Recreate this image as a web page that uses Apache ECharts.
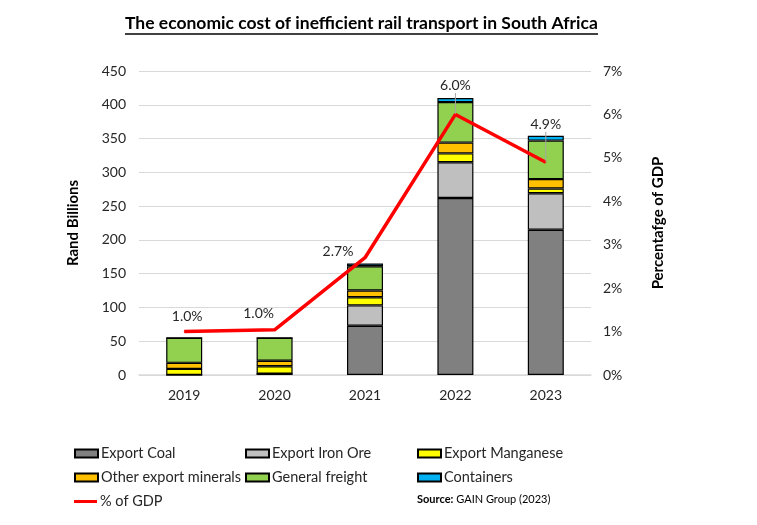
<!DOCTYPE html>
<html>
<head>
<meta charset="utf-8">
<script src="https://cdn.jsdelivr.net/npm/echarts@6/dist/echarts.min.js"></script>
<style>
  html, body { margin: 0; padding: 0; background: #fff; }
  #chart { width: 757px; height: 525px; }
</style>
</head>
<body>
<div id="chart"></div>
<script>
// rand billions per year
var years = ['2019', '2020', '2021', '2022', '2023'];
var exportCoal = [0, 2, 73, 262, 215];
var exportIronOre = [0, 0, 30, 53, 54];
var exportManganese = [9, 11, 12, 13, 7];
var otherMinerals = [9, 8, 10, 16, 14];
var generalFreight = [37, 34, 36, 60, 57];
var containers = [0, 0, 4, 6, 7];
// % of GDP line
var gdpShare = [1.0, 1.04, 2.7, 6.0, 4.9];

var leftTicks = { min: 0, max: 450, interval: 50 };
var rightTicks = { min: 0, max: 7, interval: 1 };

var FONT = 'Lato';
var chart = echarts.init(document.getElementById('chart'));

function barSeries(name, data, color) {
  return {
    name: name,
    type: 'bar',
    stack: 'cost',
    barWidth: 36,
    data: data,
    itemStyle: { color: color, borderColor: '#000', borderWidth: 1.2 }
  };
}

// label nudges for the % line; the last two get a leader line
var labelShift = [[3, -3], [-16, -4], [-27, 6], [0, -16], [0, -25]];
var gdpData = gdpShare.map(function (v, i) {
  var item = { value: v };
  if (i >= 3) {
    item.labelLine = { show: true, showAbove: true, lineStyle: { color: '#a6a6a6', width: 1 } };
  }
  return item;
});

function legendAt(name, left, top, isLine) {
  return {
    data: [{ name: name, icon: 'rect' }],
    left: left,
    top: top,
    padding: 0,
    itemWidth: 23,
    itemHeight: isLine ? 3 : 8,
    itemStyle: isLine ? { borderWidth: 0 } : {},
    textStyle: { fontFamily: FONT, fontSize: 14.5, color: '#262626', padding: [0, 0, 0, -2] }
  };
}

var option = {
  animation: false,
  backgroundColor: '#fff',
  title: {
    text: 'The economic cost of inefficient rail transport in South Africa',
    left: 125,
    top: 14,
    padding: 0,
    textStyle: { fontFamily: FONT, fontSize: 17.5, fontWeight: 'bold', color: '#000' }
  },
  grid: { left: 139, right: 166, top: 71, bottom: 150 },
  legend: [
    legendAt('Export Coal', 74, 446),
    legendAt('Export Iron Ore', 245, 446),
    legendAt('Export Manganese', 417, 446),
    legendAt('Other export minerals', 74, 470),
    legendAt('General freight', 245, 470),
    legendAt('Containers', 417, 470),
    legendAt('% of GDP', 74, 494, true)
  ],
  xAxis: {
    type: 'category',
    data: years,
    axisLine: { lineStyle: { color: '#d9d9d9', width: 1.5 } },
    axisTick: { show: false },
    axisLabel: { fontFamily: FONT, fontSize: 14, color: '#262626', margin: 13 }
  },
  yAxis: [
    {
      type: 'value',
      min: leftTicks.min, max: leftTicks.max, interval: leftTicks.interval,
      name: 'Rand Billions',
      nameLocation: 'middle',
      nameGap: 58,
      nameTextStyle: { fontFamily: FONT, fontSize: 15, fontWeight: 'bold', color: '#000' },
      axisLine: { show: false },
      axisTick: { show: false },
      splitLine: { lineStyle: { color: '#d9d9d9', width: 1 } },
      axisLabel: { fontFamily: FONT, fontSize: 14, color: '#262626', margin: 13 }
    },
    {
      type: 'value',
      min: rightTicks.min, max: rightTicks.max, interval: rightTicks.interval,
      name: 'Percentafge of GDP',
      nameLocation: 'middle',
      nameGap: 60,
      nameTextStyle: { fontFamily: FONT, fontSize: 15, fontWeight: 'bold', color: '#000' },
      axisLine: { show: false },
      axisTick: { show: false },
      splitLine: { show: false },
      axisLabel: { fontFamily: FONT, fontSize: 14, color: '#262626', margin: 12, formatter: '{value}%' }
    }
  ],
  graphic: [
    {
      type: 'line',
      shape: { x1: 125, y1: 34, x2: 598, y2: 34 },
      style: { stroke: '#000', lineWidth: 1.5 }
    },
    {
      type: 'text',
      left: 417,
      top: 494,
      style: {
        text: '{b|Source:} GAIN Group (2023)',
        fontFamily: FONT,
        fontSize: 11,
        fill: '#000',
        rich: { b: { fontFamily: FONT, fontSize: 11, fontWeight: 'bold' } }
      }
    }
  ],
  series: [
    barSeries('Export Coal', exportCoal, '#808080'),
    barSeries('Export Iron Ore', exportIronOre, '#bfbfbf'),
    barSeries('Export Manganese', exportManganese, '#ffff00'),
    barSeries('Other export minerals', otherMinerals, '#ffc000'),
    barSeries('General freight', generalFreight, '#92d050'),
    barSeries('Containers', containers, '#00b0f0'),
    {
      name: '% of GDP',
      type: 'line',
      yAxisIndex: 1,
      data: gdpData,
      symbol: 'circle',
      symbolSize: 1,
      showSymbol: true,
      z: 10,
      lineStyle: { color: '#ff0000', width: 3.5 },
      itemStyle: { color: '#ff0000' },
      label: {
        show: true,
        position: 'top',
        fontFamily: FONT,
        fontSize: 14,
        color: '#262626',
        formatter: function (p) { return p.value.toFixed(1) + '%'; }
      },
      labelLayout: function (params) {
        var s = labelShift[params.dataIndex];
        return { dx: s[0], dy: s[1] };
      }
    }
  ]
};

chart.setOption(option);
</script>
</body>
</html>
